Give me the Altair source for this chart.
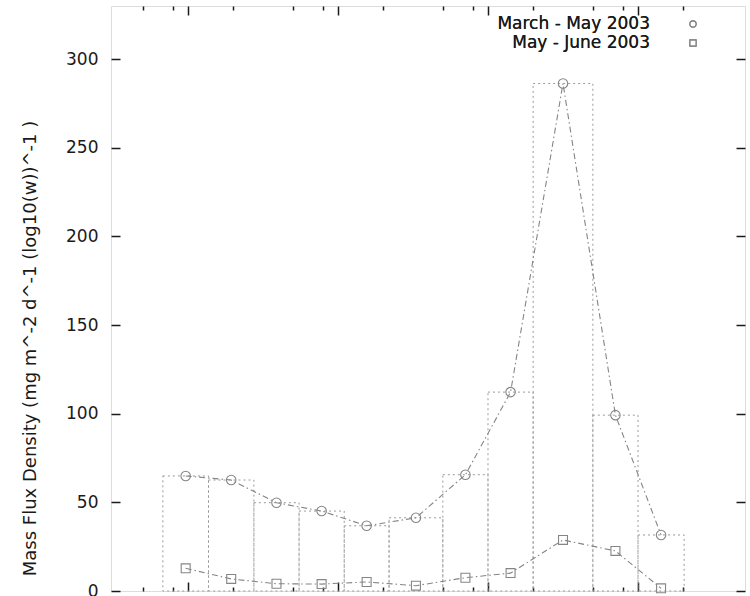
import altair as alt
import numpy as np
import pandas as pd

# ---- data ----
bin_lo = [0.00068, 0.00137, 0.00275, 0.0055, 0.0110, 0.0219, 0.050, 0.10, 0.20, 0.50, 1.00]
bin_hi = [0.00137, 0.00275, 0.0055, 0.0110, 0.0219, 0.050, 0.10, 0.20, 0.50, 1.00, 2.03]
march_may = [64.9, 62.6, 49.8, 45.1, 36.8, 41.3, 65.6, 112.2, 286.3, 99.2, 31.6]
may_june = [12.8, 6.8, 4.1, 3.9, 5.1, 3.0, 7.5, 10.1, 28.8, 22.6, 1.5]
series_labels = ["March - May 2003", "May - June 2003"]
y_title = "Mass Flux Density (mg m^-2 d^-1 (log10(w))^-1 )"
y_ticks = [0, 50, 100, 150, 200, 250, 300]
x_major = [0.001, 0.01, 0.1, 1]
x_minor = [0.0005, 0.0008, 0.002, 0.005, 0.008, 0.02, 0.05, 0.08, 0.2, 0.5, 0.8, 2]
x_domain = [3.067e-4, 5.168]
y_domain = [0, 330]

df = pd.DataFrame({
    "lo": bin_lo,
    "hi": bin_hi,
    "ctr": np.sqrt(np.array(bin_lo) * np.array(bin_hi)),
    "march": march_may,
    "mayjune": may_june,
})

W, H = 634, 585
FONT = "DejaVu Sans"
INK = "#1a1a1a"
GRAY = "#858585"
BARGRAY = "#9a9a9a"
DASHDOT = [6, 3, 1.5, 3]

xs = alt.Scale(type="log", domain=x_domain, nice=False)
ys = alt.Scale(domain=y_domain, nice=False, zero=True)


def tick_axis(orient, values, size):
    return alt.Axis(orient=orient, values=values, labels=False, domain=False,
                    ticks=True, tickSize=size, offset=-size, grid=False,
                    title=None, tickWidth=1.5, tickColor=INK)


label_axis = alt.Axis(orient="left", values=y_ticks, ticks=False, tickSize=0,
                      domain=False, grid=False, labelPadding=13,
                      labelFont=FONT, labelFontSize=17, labelColor=INK,
                      title=y_title, titleFont=FONT, titleFontSize=18,
                      titleFontWeight="normal", titleColor=INK,
                      titleX=-81, titleY=342, titleAngle=270,
                      titleAlign="center", titleBaseline="middle")

base = alt.Chart(df)

bars = base.mark_rect(fillOpacity=0, stroke=BARGRAY, strokeWidth=1,
                      strokeDash=[2, 3]).encode(
    x=alt.X("lo:Q", scale=xs, axis=tick_axis("bottom", x_major, 9)),
    x2="hi:Q",
    y=alt.Y("march:Q", scale=ys, axis=label_axis),
    y2=alt.datum(0),
)

line1 = base.mark_line(color=GRAY, strokeWidth=1.1, strokeDash=DASHDOT).encode(
    x=alt.X("ctr:Q", scale=xs, axis=tick_axis("bottom", x_minor, 4)),
    y=alt.Y("march:Q", scale=ys, axis=tick_axis("left", y_ticks, 9)),
)

pts1 = base.mark_point(shape="circle", filled=False, color=GRAY, size=90,
                       strokeWidth=1.1, opacity=1).encode(
    x=alt.X("ctr:Q", scale=xs, axis=tick_axis("top", x_major, 9)),
    y=alt.Y("march:Q", scale=ys, axis=tick_axis("right", y_ticks, 9)),
)

line2 = base.mark_line(color=GRAY, strokeWidth=1.1, strokeDash=DASHDOT).encode(
    x=alt.X("ctr:Q", scale=xs, axis=tick_axis("top", x_minor, 4)),
    y=alt.Y("mayjune:Q", scale=ys, axis=None),
)

pts2 = base.mark_point(shape="square", filled=False, color=GRAY, size=80,
                       strokeWidth=1.1, opacity=1).encode(
    x=alt.X("ctr:Q", scale=xs, axis=None),
    y=alt.Y("mayjune:Q", scale=ys, axis=None),
)

leg_df = pd.DataFrame({"label": series_labels})
leg_text1 = alt.Chart(leg_df).mark_text(
    text=series_labels[0], align="right", baseline="middle", font=FONT,
    fontSize=17, color=INK).encode(x=alt.value(539), y=alt.value(18))
leg_text2 = alt.Chart(leg_df).mark_text(
    text=series_labels[1], align="right", baseline="middle", font=FONT,
    fontSize=17, color=INK).encode(x=alt.value(539), y=alt.value(37))
leg_sym1 = alt.Chart(leg_df).mark_point(
    shape="circle", filled=False, color=GRAY, size=40, strokeWidth=1.1,
    opacity=1).encode(x=alt.value(582), y=alt.value(18))
leg_sym2 = alt.Chart(leg_df).mark_point(
    shape="square", filled=False, color=GRAY, size=40, strokeWidth=1.1,
    opacity=1).encode(x=alt.value(582), y=alt.value(37))

chart = alt.layer(
    bars, line1, pts1, line2, pts2, leg_text1, leg_text2, leg_sym1, leg_sym2
).resolve_axis(
    x="independent", y="independent"
).properties(
    width=W, height=H,
    autosize=alt.AutoSizeParams(type="none"),
    padding={"left": 111, "top": 6, "right": 5, "bottom": 5},
).configure_view(
    stroke=INK, strokeWidth=1.5
).configure(background="white")

chart.save("out.html", embed_options={"renderer": "svg", "actions": False})
